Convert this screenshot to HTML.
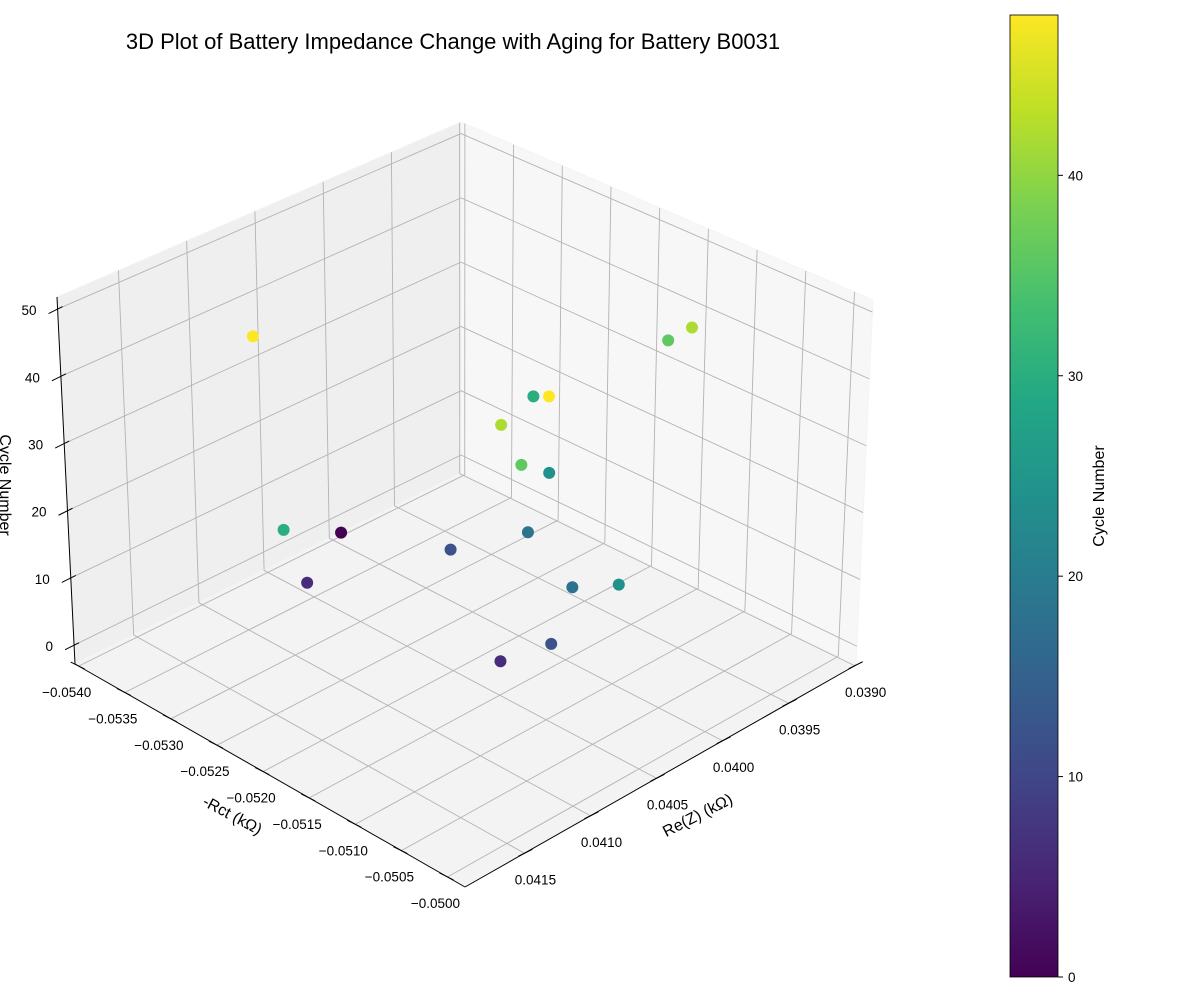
<!DOCTYPE html>
<html><head><meta charset="utf-8"><style>
body{margin:0;background:#fff;}
svg text{font-family:"Liberation Sans","DejaVu Sans",sans-serif;fill:#000;}
</style></head><body>
<svg id="chart" width="1200" height="1000" viewBox="0 0 1200 1000" xmlns="http://www.w3.org/2000/svg">
<defs>
<linearGradient id="vir" x1="0" y1="1" x2="0" y2="0">
<stop offset="0" stop-color="#440154"/><stop offset="0.1" stop-color="#482475"/><stop offset="0.2" stop-color="#414487"/><stop offset="0.3" stop-color="#355f8d"/><stop offset="0.4" stop-color="#2a788e"/><stop offset="0.5" stop-color="#21918c"/><stop offset="0.6" stop-color="#22a884"/><stop offset="0.7" stop-color="#44bf70"/><stop offset="0.8" stop-color="#7ad151"/><stop offset="0.9" stop-color="#bddf26"/><stop offset="1" stop-color="#fde725"/>
</linearGradient>
</defs>
<text x="453" y="49" font-size="22" text-anchor="middle">3D Plot of Battery Impedance Change with Aging for Battery B0031</text>
<g id="panes"></g>
<g id="grid"></g>
<g id="axes"></g>
<g id="points"></g>
<text x="700" y="820" font-size="16" text-anchor="middle" transform="rotate(-27 700 820)">Re(Z) (kΩ)</text>
<text x="230" y="820" font-size="16" text-anchor="middle" transform="rotate(28 230 820)">-Rct (kΩ)</text>
<text x="0" y="485" font-size="16" text-anchor="middle" transform="rotate(90 0 485)">Cycle Number</text>
<rect x="1010" y="15" width="48" height="962" fill="url(#vir)" stroke="#000" stroke-width="0.8"/>
<g id="cbar"></g>
<text x="1104" y="496" font-size="16" text-anchor="middle" transform="rotate(-90 1104 496)">Cycle Number</text>
</svg>
<script>
const reVals=[0.04130,0.03931,0.03918,0.03979,0.04066,0.04074,0.04066,0.04001,0.04173,0.04005,0.04035,0.04023,0.04085,0.04047,0.04058,0.04066,0.04068];
const rctVals=[-0.05294,-0.05120,-0.05162,-0.05216,-0.05078,-0.05116,-0.05106,-0.05168,-0.05204,-0.05384,-0.05224,-0.05159,-0.05307,-0.05078,-0.05014,-0.05073,-0.05124];
const cycleVals=[48,42,36,30,48,42,36,24,30,0,12,18,6,18,24,12,6];
const reTicks=[0.0390,0.0395,0.0400,0.0405,0.0410,0.0415];
const rctTicks=[-0.0540,-0.0535,-0.0530,-0.0525,-0.0520,-0.0515,-0.0510,-0.0505,-0.0500];
const zTicks=[0,10,20,30,40,50];
const cbarTicks=[0,10,20,30,40];

const RE0=0.03899,RE1=0.04195,R0=-0.05404,R1=-0.04981,Z0=-2.8,Z1=51.8,CMAX=48;
const B=[461,473],L=[75,664],R=[856,665],F=[465,887];
const Bt=[461,122],Lt=[57,297],Rt=[873,300],Ft=[466,504];
function bil(a,b,c,d,u,v){return [0,1].map(i=>a[i]*(1-u)*(1-v)+b[i]*u*(1-v)+c[i]*(1-u)*v+d[i]*u*v);}
function pn(u,v,w){const lo=bil(B,L,R,F,u,v),hi=bil(Bt,Lt,Rt,Ft,u,v);return [lo[0]+(hi[0]-lo[0])*w,lo[1]+(hi[1]-lo[1])*w];}
const su=x=>(x-RE0)/(RE1-RE0), sv=x=>(x-R0)/(R1-R0), sw=x=>(x-Z0)/(Z1-Z0);
const NS='http://www.w3.org/2000/svg';
function mk(tag,attrs,parent){const e=document.createElementNS(NS,tag);for(const k in attrs)e.setAttribute(k,attrs[k]);parent.appendChild(e);return e;}
function line(p,q,col,wd,parent){return mk('line',{x1:p[0],y1:p[1],x2:q[0],y2:q[1],stroke:col,'stroke-width':wd},parent);}
const vir=['#440154','#482475','#414487','#355f8d','#2a788e','#21918c','#22a884','#44bf70','#7ad151','#bddf26','#fde725'];
function hx(h){return [1,3,5].map(i=>parseInt(h.substr(i,2),16));}
function viridis(t){t=Math.max(0,Math.min(1,t));const s=t*10,i=Math.min(9,Math.floor(s)),f=s-i;const a=hx(vir[i]),b=hx(vir[i+1]);return 'rgb('+a.map((x,k)=>Math.round(x+(b[k]-x)*f)).join(',')+')';}

const panes=document.getElementById('panes');
function poly(pts,fill,name){const e=mk('polygon',{points:pts.map(p=>p.join(',')).join(' '),fill:fill,stroke:'#f4f4f4','stroke-width':1},panes);

}
poly([B,L,F,R],'#f3f3f3','floor-pane');
poly([B,L,Lt,Bt],'#efefef','left-wall-pane');
poly([B,R,Rt,Bt],'#f7f7f7','right-wall-pane');

const grid=document.getElementById('grid');const gc='#b3b3b3';
reTicks.forEach(t=>{const u=su(t);if(u<0||u>1)return;
 let g=line(pn(u,0,0),pn(u,1,0),gc,0.9,grid);
 
 
 g=line(pn(u,0,0),pn(u,0,1),gc,0.9,grid);
 
 });
rctTicks.forEach(t=>{const v=sv(t);if(v<0||v>1)return;
 let g=line(pn(0,v,0),pn(1,v,0),gc,0.9,grid);
 
 
 g=line(pn(0,v,0),pn(0,v,1),gc,0.9,grid);
 
 });
zTicks.forEach(t=>{const w=sw(t);
 let g=line(pn(1,0,w),pn(0,0,w),gc,0.9,grid);
 
 
 g=line(pn(0,0,w),pn(0,1,w),gc,0.9,grid);
 
 });

const axes=document.getElementById('axes');
let a=line(R,F,'#000',1,axes);


a=line(L,F,'#000',1,axes);


a=line(L,Lt,'#000',1,axes);


function label(x,y,txt,anchor,name){const e=mk('text',{x:x,y:y,'font-size':13.5,'text-anchor':anchor},axes);e.textContent=txt;
 
 }
reTicks.forEach(t=>{const p=pn(su(t),1,0);
 if(su(t)<=1.0){const tk=line([p[0]-6,p[1]+3],[p[0]+8,p[1]-4],'#000',1,axes);
 
 }
 label(p[0]+11,p[1]+31,t.toFixed(4),'middle','x-tick-label');});
rctTicks.forEach(t=>{const p=pn(1,sv(t),0);
 if(sv(t)<=1.0){const tk=line([p[0]-8,p[1]-4],[p[0]+6,p[1]+3],'#000',1,axes);
 
 }
 label(p[0]-12,p[1]+31,'\u2212'+Math.abs(t).toFixed(4),'middle','y-tick-label');});
zTicks.forEach(t=>{const p=pn(1,0,sw(t));
 const tk=line([p[0]+5,p[1]-2.5],[p[0]-9,p[1]+4.5],'#000',1,axes);
 
 
 label(p[0]-21,p[1]+6,String(t),'end','z-tick-label');});

const pts=document.getElementById('points');
const order=reVals.map((r,i)=>i).sort((i,j)=>(su(reVals[i])+sv(rctVals[i]))-(su(reVals[j])+sv(rctVals[j])));
order.forEach(i=>{const p=pn(su(reVals[i]),sv(rctVals[i]),sw(cycleVals[i]));
 const c=mk('circle',{cx:p[0],cy:p[1],r:6,fill:viridis(cycleVals[i]/CMAX)},pts);
 
 });

const cb=document.getElementById('cbar');
cbarTicks.forEach(t=>{const y=977-t/CMAX*962;
 const tk=line([1058,y],[1063,y],'#000',1,cb);
 
 
 const e=mk('text',{x:1068,y:y+5,'font-size':13.5},cb);e.textContent=String(t);
 
 });
</script>
</body></html>
